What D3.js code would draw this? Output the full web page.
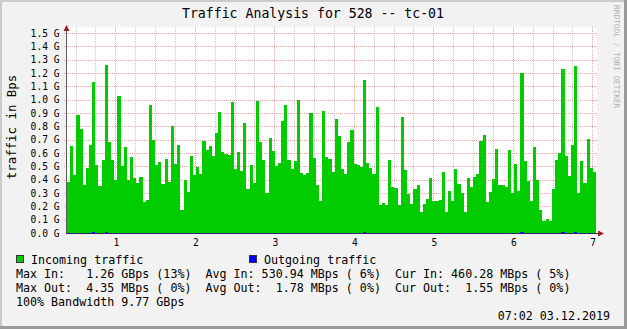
<!DOCTYPE html>
<html><head><meta charset="utf-8">
<script src="https://cdn.jsdelivr.net/npm/d3@7/dist/d3.min.js"></script>
<style>
html,body{margin:0;padding:0;background:#f2f2f2;}
svg{display:block;}
text{font-family:"DejaVu Sans Mono",monospace;white-space:pre;}
</style>
</head><body>
<svg id="chart" width="627" height="329"></svg>
<script>
// Incoming traffic (GBps), one value per step
const incoming = [
 0.38,0.655,0.4375,0.8875,0.78,0.36,0.49,0.66,1.13,0.51,0.355,0.545,1.2575,0.68,0.545,0.395,1.03,0.505,0.6475,0.40,0.5675,0.41,0.3775,0.4175,0.23,0.245,0.9625,0.695,0.5125,0.535,0.37,0.5575,0.385,0.805,
 0.52,0.6625,0.175,0.40,0.31,0.58,0.4375,0.4975,0.445,0.6925,0.625,0.655,0.58,0.7525,0.91,0.61,0.59,0.585,0.985,0.4825,0.61,0.4675,0.8275,0.3325,0.5125,0.3775,0.9925,0.685,0.55,0.3025,0.715,0.6175,0.505,0.5275,
 0.8425,0.9625,0.55,0.4825,0.5425,1.0,0.4525,0.4375,0.4525,0.9025,0.565,0.3625,0.2425,0.9175,0.5725,0.5575,0.46,0.8575,0.73,0.4825,0.445,0.685,0.775,0.52,0.5125,0.4975,1.15,0.5275,0.49,0.445,0.9475,0.2125,0.2275,
 0.2125,0.55,0.3475,0.34,0.2125,0.8725,0.475,0.295,0.22,0.3325,0.3625,0.16,0.22,0.2575,0.415,0.2425,0.2425,0.25,0.46,0.16,0.3175,0.2425,0.4825,0.37,0.3025,0.16,0.415,0.3475,0.4225,0.445,0.6925,0.7375,0.235,0.31,
 0.4075,0.6325,0.3625,0.3625,0.3475,0.625,0.3025,0.52,0.3175,1.2025,0.5425,0.3925,0.2425,0.6475,0.40,0.175,0.0925,0.1075,0.0925,0.3325,0.55,0.6025,1.2325,0.58,0.43,0.6625,1.255,0.3025,0.5425,0.3775,0.7075,0.49,0.46
];
// Outgoing traffic (GBps)
const outgoing = [
 0.0016,0.0017,0.0018,0.0016,0.0017,0.0015,0.0016,0.0018,0.0041,0.0017,0.0016,0.0018,
 0.0043,0.0018,0.0017,0.0016,0.0019,0.0017,0.0016,0.0018,0.0017,0.0016,0.0015,0.0017,
 0.0016,0.0015,0.0018,0.0017,0.0016,0.0017,0.0016,0.0017,0.0016,0.0018,0.0017,0.0018,
 0.0015,0.0016,0.0017,0.0016,0.0017,0.0016,0.0017,0.0018,0.0017,0.0016,0.0018,0.0017,
 0.0019,0.0017,0.0018,0.0017,0.0016,0.0018,0.0017,0.0016,0.0018,0.0016,0.0015,0.0019,
 0.0017,0.0016,0.0017,0.0016,0.0018,0.0017,0.0016,0.0017,0.0018,0.0019,0.0017,0.0016,
 0.0017,0.0019,0.0016,0.0016,0.0016,0.0018,0.0017,0.0016,0.0015,0.0018,0.0017,0.0017,
 0.0016,0.0018,0.0017,0.0016,0.0016,0.0017,0.0018,0.0017,0.0017,0.0016,0.0042,0.0017,
 0.0016,0.0017,0.0018,0.0015,0.0015,0.0015,0.0015,0.0017,0.0016,0.0015,0.0015,0.0018,
 0.0016,0.0015,0.0015,0.0016,0.0016,0.0014,0.0015,0.0015,0.0016,0.0015,0.0015,0.0015,
 0.0016,0.0014,0.0016,0.0015,0.0016,0.0015,0.0015,0.0016,0.0016,0.0016,0.0017,0.0017,
 0.0015,0.0016,0.0016,0.0017,0.0015,0.0015,0.0016,0.0017,0.0016,0.0017,0.0016,0.0016,
 0.0040,0.0017,0.0016,0.0015,0.0017,0.0016,0.0015,0.0014,0.0014,0.0014,0.0016,0.0017,
 0.0017,0.0042,0.0017,0.0016,0.0017,0.0041,0.0016,0.0017,0.0016,0.0017,0.0016,0.00155
];
const timeStart = 0.392, timeEnd = 7.047;
const xTickValues = [1,2,3,4,5,6,7];
const xTickLabels = ["1","2","3","4","5","6","7"];
const yTickValues = [0,0.1,0.2,0.3,0.4,0.5,0.6,0.7,0.8,0.9,1.0,1.1,1.2,1.3,1.4,1.5];
const yTickLabels = ["0.0 G","0.1 G","0.2 G","0.3 G","0.4 G","0.5 G","0.6 G","0.7 G","0.8 G","0.9 G","1.0 G","1.1 G","1.2 G","1.3 G","1.4 G","1.5 G"];
const seriesNames = ["Incoming traffic","Outgoing traffic"];
const seriesColors = ["#00cc00","#0000ff"];
const titleText = "Traffic Analysis for 528 -- tc-01";
const unitText = "traffic in Bps";
const statLines = [
 "Max In:   1.26 GBps (13%)  Avg In: 530.94 MBps ( 6%)  Cur In: 460.28 MBps ( 5%)",
 "Max Out:  4.35 MBps ( 0%)  Avg Out:  1.78 MBps ( 0%)  Cur Out:  1.55 MBps ( 0%)",
 "100% Bandwidth 9.77 GBps"
];
const dateText = "07:02 03.12.2019";
const watermark = "RRDTOOL / TOBI OETIKER";

const W = 627, H = 329;
const svg = d3.select("#chart");
const L = 67, R = 596, B = 233, T = 33;
const x = d3.scaleLinear().domain([timeStart, timeEnd]).range([L, R]);
const y = d3.scaleLinear().domain([0, 1.5]).range([B, T]);
const n = incoming.length;
const step = (timeEnd - timeStart) / n;
const tOf = i => timeStart + i * step;

// background + frame
svg.append("rect").attr("x",0).attr("y",0).attr("width",W).attr("height",H).attr("fill","#f2f2f2");
svg.append("rect").attr("x",0).attr("y",0).attr("width",W).attr("height",2).attr("fill","#cbcbcb");
svg.append("rect").attr("x",0).attr("y",0).attr("width",2).attr("height",H).attr("fill","#cbcbcb");
svg.append("rect").attr("x",W-3).attr("y",0).attr("width",3).attr("height",H).attr("fill","#9a9a9a");
svg.append("rect").attr("x",0).attr("y",H-3).attr("width",W).attr("height",3).attr("fill","#9a9a9a");

// canvas
svg.append("rect").attr("x",L).attr("y",27).attr("width",R+1-L).attr("height",B-27).attr("fill","#ffffff");

// minor vertical grid
const minor = d3.range(0.5, 7.01, 0.25).filter(v => Math.abs(v - Math.round(v)) > 0.01);
svg.append("g").selectAll("line").data(minor).join("line")
  .attr("x1", d => Math.round(x(d)) + 0.5).attr("x2", d => Math.round(x(d)) + 0.5)
  .attr("y1", 27).attr("y2", B)
  .attr("stroke", "#d2c8c8").attr("stroke-dasharray", "1,1");
// major vertical grid
svg.append("g").selectAll("line").data(xTickValues).join("line")
  .attr("x1", d => Math.round(x(d)) + 0.5).attr("x2", d => Math.round(x(d)) + 0.5)
  .attr("y1", 27).attr("y2", B)
  .attr("stroke", "#e6a8a8").attr("stroke-dasharray", "1,1");
// horizontal grid
svg.append("g").selectAll("line").data(yTickValues.slice(1)).join("line")
  .attr("x1", L - 3).attr("x2", R + 1)
  .attr("y1", d => Math.round(y(d)) + 0.5).attr("y2", d => Math.round(y(d)) + 0.5)
  .attr("stroke", "#e6a8a8").attr("stroke-dasharray", "1,1");

// incoming area (step)
const pts = incoming.map((v, i) => [tOf(i), v]);
pts.push([timeEnd, incoming[n - 1]]);
svg.append("path").datum(pts)
  .attr("d", d3.area().curve(d3.curveStepAfter).x(d => x(d[0])).y0(y(0)).y1(d => y(d[1])))
  .attr("fill", seriesColors[0]).attr("shape-rendering", "crispEdges");

// outgoing (tiny)
svg.append("g").selectAll("rect").data(outgoing).join("rect")
  .attr("x", (d, i) => x(tOf(i))).attr("width", x(tOf(1)) - x(tOf(0)))
  .attr("y", d => Math.round(y(d))).attr("height", d => y(0) - Math.round(y(d)))
  .attr("fill", seriesColors[1]).attr("shape-rendering", "crispEdges");

// axes
svg.append("line").attr("x1", L - 0.5).attr("x2", L - 0.5).attr("y1", 28).attr("y2", B + 1)
  .attr("stroke", "#5a5a5a");
svg.append("line").attr("x1", L - 1).attr("x2", 599).attr("y1", B + 0.5).attr("y2", B + 0.5)
  .attr("stroke", "#2c2466");
// arrows
svg.append("path").attr("d", `M${L-3.5},31 L${L+2.5},31 L${L-0.5},25 Z`).attr("fill", "#9a1c1c");
svg.append("path").attr("d", `M598,${B+0.5-3} L598,${B+0.5+3} L604,${B+0.5} Z`).attr("fill", "#9a1c1c");

// tick labels
svg.append("g").selectAll("text").data(yTickValues).join("text")
  .attr("x", 59.5).attr("y", d => y(d) + 3.5).attr("text-anchor", "end")
  .attr("font-size", "9.6px").attr("fill", "#000")
  .text((d, i) => yTickLabels[i]);
svg.append("g").selectAll("text").data(xTickValues).join("text")
  .attr("x", d => x(d) + 1).attr("y", 245.5).attr("text-anchor", "middle")
  .attr("font-size", "9.6px").attr("fill", "#000")
  .text((d, i) => xTickLabels[i]);

// title
svg.append("text").attr("x", 313).attr("y", 18).attr("text-anchor", "middle")
  .attr("font-size", "13.2px").attr("fill", "#000").text(titleText);
// unit label
svg.append("text").attr("transform", "translate(16,127) rotate(-90)").attr("text-anchor", "middle")
  .attr("font-size", "12.4px").attr("fill", "#000").text(unitText);
// watermark
svg.append("text").attr("transform", "translate(614,5) rotate(90)").attr("text-anchor", "start")
  .attr("font-size", "7.8px").attr("fill", "#b0b0b0").text(watermark);

// legend
const legX = [16, 249];
seriesNames.forEach((s, i) => {
  svg.append("rect").attr("x", legX[i] + 0.5).attr("y", 255.5).attr("width", 7).attr("height", 7)
    .attr("fill", seriesColors[i]).attr("stroke", "#333");
  svg.append("text").attr("x", legX[i] + 15).attr("y", 263.5)
    .attr("font-size", "11.67px").attr("fill", "#000").text(s);
});
const rowY = [277.5, 292, 306];
statLines.forEach((s, i) => {
  svg.append("text").attr("x", 16).attr("y", rowY[i])
    .attr("font-size", "11.67px").attr("fill", "#000").text(s);
});
svg.append("text").attr("x", 610).attr("y", 320).attr("text-anchor", "end")
  .attr("font-size", "11.67px").attr("fill", "#000").text(dateText);
</script>
</body></html>
